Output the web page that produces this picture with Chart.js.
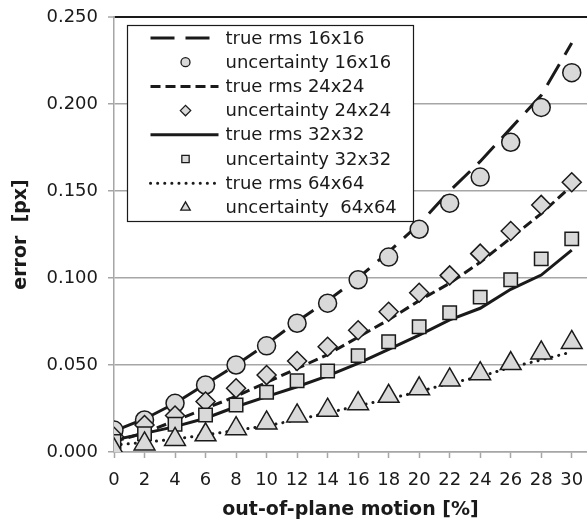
<!DOCTYPE html>
<html>
<head>
<meta charset="utf-8">
<script src="https://cdn.jsdelivr.net/npm/chart.js@4/dist/chart.umd.min.js"></script>
<style>
html,body{margin:0;padding:0;background:#fff;}
#wrap{width:587px;height:526px;}
</style>
</head>
<body>
<div id="wrap"><canvas id="c" width="587" height="526"></canvas></div>
<script>
const motion = [0,2,4,6,8,10,12,14,16,18,20,22,24,26,28,30];
const xTicks = [0,2,4,6,8,10,12,14,16,18,20,22,24,26,28,30];
const yTicks = [0,0.05,0.10,0.15,0.20,0.25];

const rms16 = [0.012,0.019,0.028,0.039,0.050,0.062,0.075,0.087,0.100,0.115,0.131,0.150,0.167,0.186,0.205,0.235];
const unc16 = [0.0126,0.0184,0.028,0.0385,0.050,0.061,0.074,0.0855,0.099,0.112,0.128,0.143,0.158,0.178,0.198,0.218];
const rms24 = [0.006,0.011,0.018,0.025,0.032,0.040,0.048,0.056,0.066,0.076,0.087,0.097,0.109,0.123,0.137,0.153];
const unc24 = [0.0088,0.0155,0.021,0.029,0.0366,0.0442,0.0523,0.0605,0.070,0.0806,0.0915,0.1015,0.114,0.127,0.142,0.155];
const rms32 = [0.0069,0.0107,0.0146,0.0194,0.026,0.0318,0.0375,0.0437,0.051,0.059,0.0672,0.0759,0.0826,0.0935,0.1017,0.116];
const unc32 = [0.006,0.0105,0.016,0.0213,0.027,0.0343,0.041,0.0466,0.0554,0.0634,0.072,0.080,0.089,0.099,0.111,0.1225];
const rms64 = [0.004,0.0055,0.0075,0.0098,0.0125,0.015,0.0185,0.0225,0.0265,0.0305,0.0347,0.0395,0.0433,0.0487,0.0529,0.0575];
const unc64 = [0.0012,0.0046,0.0072,0.0099,0.0134,0.0167,0.0207,0.024,0.0278,0.032,0.0363,0.0414,0.045,0.0508,0.0569,0.063];

const seriesLabels = ['true rms 16x16','uncertainty 16x16','true rms 24x24','uncertainty 24x24',
                      'true rms 32x32','uncertainty 32x32','true rms 64x64','uncertainty  64x64'];

const FONT = 'DejaVu Sans';
const INK = '#1a1a1a';
const MARK_FILL = '#d9d9d9';
const GRID = '#a6a6a6';

function pts(vals){ return motion.map((x,i)=>({x:x,y:vals[i]})); }

function lineDs(label, vals, dash, cap){
  return {label, data: pts(vals), type:'line', showLine:true, pointRadius:0,
    borderColor:INK, borderWidth:3, borderDash:dash, borderCapStyle:cap||'butt',
    fill:false, tension:0, order:10, isLine:true};
}
function markDs(label, vals, style, r, order){
  return {label, data: pts(vals), type:'line', showLine:false, pointStyle:style,
    pointRadius:r, pointHoverRadius:r, pointBackgroundColor:MARK_FILL,
    pointBorderColor:INK, pointBorderWidth:1.5, borderColor:INK, order:order, isLine:false};
}

const datasets = [
  lineDs(seriesLabels[0], rms16, [24,11]),
  markDs(seriesLabels[1], unc16, 'circle', 9, 4),
  lineDs(seriesLabels[2], rms24, [10,5]),
  markDs(seriesLabels[3], unc24, 'rectRot', 9.5, 3),
  lineDs(seriesLabels[4], rms32, []),
  markDs(seriesLabels[5], unc32, 'rect', 9.5, 2),
  lineDs(seriesLabels[6], rms64, [0.1,7], 'round'),
  markDs(seriesLabels[7], unc64, 'triangle', 12, 1)
];

function drawShape(ctx, style, x, y, r){
  ctx.beginPath();
  if(style==='circle'){ ctx.arc(x,y,r,0,Math.PI*2); }
  else if(style==='rectRot'){ ctx.moveTo(x-r,y); ctx.lineTo(x,y-r); ctx.lineTo(x+r,y); ctx.lineTo(x,y+r); ctx.closePath(); }
  else if(style==='rect'){ const s=r*Math.SQRT1_2; ctx.rect(x-s,y-s,2*s,2*s); }
  else if(style==='triangle'){ ctx.moveTo(x,y-r); ctx.lineTo(x+r*0.866,y+r/2); ctx.lineTo(x-r*0.866,y+r/2); ctx.closePath(); }
  ctx.fill(); ctx.stroke();
}

const boxLegend = {
  id:'boxLegend',
  afterDatasetsDraw(chart){
    const ctx = chart.ctx, ca = chart.chartArea;
    const bx = ca.left + 13.5, by = ca.top + 8.5, bw = 286, bh = 196;
    ctx.save();
    ctx.fillStyle = '#fff';
    ctx.fillRect(bx,by,bw,bh);
    ctx.strokeStyle = INK; ctx.lineWidth = 1.2;
    ctx.strokeRect(bx,by,bw,bh);
    chart.data.datasets.forEach((ds,i)=>{
      const cy = by + 12.5 + i*24.2;
      if(ds.isLine){
        ctx.save();
        ctx.strokeStyle = ds.borderColor; ctx.lineWidth = ds.borderWidth;
        ctx.setLineDash(ds.borderDash||[]); ctx.lineCap = ds.borderCapStyle||'butt';
        ctx.beginPath(); ctx.moveTo(bx+23, cy); ctx.lineTo(bx+91, cy); ctx.stroke();
        ctx.restore();
      } else {
        ctx.save();
        ctx.fillStyle = MARK_FILL; ctx.strokeStyle = INK; ctx.lineWidth = 1.3;
        const r = ds.pointStyle==='triangle' ? 5.5 : (ds.pointStyle==='circle' ? 4.5 : 5.2);
        drawShape(ctx, ds.pointStyle, bx+58, cy, r);
        ctx.restore();
      }
      ctx.fillStyle = INK;
      ctx.font = '18px "' + FONT + '"';
      ctx.textBaseline = 'middle'; ctx.textAlign = 'left';
      ctx.fillText(ds.label, bx+98, cy+1);
    });
    ctx.restore();
  }
};

new Chart(document.getElementById('c'), {
  type:'line',
  data:{ datasets },
  options:{
    responsive:false, animation:false, devicePixelRatio:1,
    layout:{ autoPadding:false, padding:{ top:17, right:0, bottom:0, left:0 } },
    plugins:{ legend:{display:false}, tooltip:{enabled:false} },
    scales:{
      x:{
        type:'linear', min:0, max:31,
        afterBuildTicks(axis){ axis.ticks = xTicks.map(v=>({value:v})); },
        afterFit(scale){ scale.height = 74; scale.paddingLeft = 0; scale.paddingRight = 0; },
        grid:{ drawOnChartArea:false, drawTicks:true, tickLength:6, tickColor:GRID, tickWidth:1.5 },
        border:{ display:true, color:GRID, width:1.5 },
        ticks:{ color:INK, font:{family:FONT, size:18}, padding:12, maxRotation:0, autoSkip:false },
        title:{ display:true, text:'out-of-plane motion [%]', color:INK,
                font:{family:FONT, size:19, weight:'bold'}, padding:{top:0,bottom:5} }
      },
      y:{
        type:'linear', min:0, max:0.25,
        afterBuildTicks(axis){ axis.ticks = yTicks.map(v=>({value:v})); },
        afterFit(scale){ scale.width = 114; scale.paddingTop = 0; scale.paddingBottom = 0; },
        grid:{ drawOnChartArea:true, drawTicks:true, tickLength:6, tickColor:GRID, tickWidth:1.5,
               color:(c)=> (c.tick && Math.abs(c.tick.value-0.25)<1e-9) ? INK : GRID,
               lineWidth:(c)=> (c.tick && Math.abs(c.tick.value-0.25)<1e-9) ? 2 : 1.5 },
        border:{ display:true, color:GRID, width:1.5 },
        ticks:{ color:INK, font:{family:FONT, size:18}, padding:10,
                callback:(v)=>Number(v).toFixed(3) },
        title:{ display:true, text:'error  [px]', color:INK,
                font:{family:FONT, size:19, weight:'bold'}, padding:{top:10,bottom:0} }
      }
    }
  },
  plugins:[boxLegend]
});
</script>
</body>
</html>
